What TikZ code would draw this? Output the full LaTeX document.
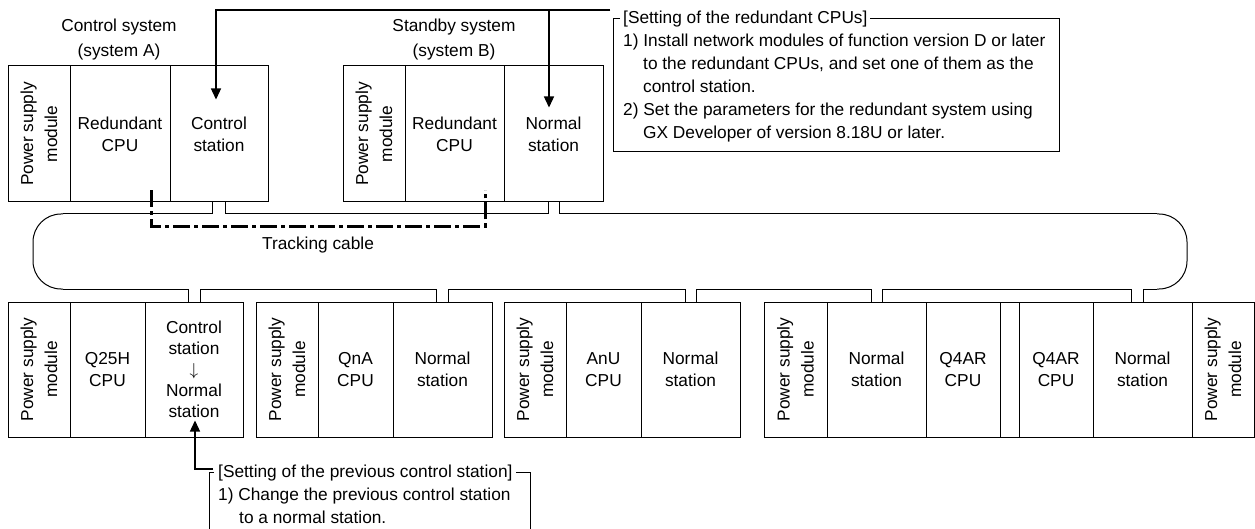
\documentclass[tikz,border=0pt]{standalone}
\usepackage{fontspec}
\setmainfont{Liberation Sans}
\usetikzlibrary{calc,arrows.meta}
\newcommand{\txtfont}{\fontsize{17.3}{22}\selectfont}
\begin{document}
\begin{tikzpicture}[x=1pt,y=-1pt,
  mod/.style={draw, line width=1pt, inner sep=0pt, align=center, font=\txtfont, minimum height=136pt},
  modb/.style={mod, minimum height=135pt},
  pow/.style={draw, line width=1pt, inner sep=0pt, align=center, rotate=90,
     font=\fontsize{17.3}{24}\selectfont, minimum height=62pt},
  lbl/.style={inner sep=0pt, font=\txtfont},
  notebox/.style={draw, line width=1pt, inner sep=0pt},
  ttl/.style={fill=white, inner ysep=1pt, inner xsep=3pt, font=\txtfont, anchor=base west},
  cable/.style={line width=1pt},
  conn/.style={line width=1.3pt, -{Triangle[length=11pt,width=10pt]}},
  track/.style={line width=3pt, dash pattern=on 17pt off 4pt on 4pt off 4pt}]
\clip (0,0) rectangle (1255,529);
\useasboundingbox (0,0) rectangle (1255,529);

% ---- top racks ----
\node[pow, minimum width=136pt] (pA) at (39,134) {Power supply\\module};
\node[mod, minimum width=100pt] (cpuA) at (120,134) {Redundant\\CPU};
\node[mod, minimum width=98pt] (csA) at (219,134) {Control\\station};
\node[pow, minimum width=136pt] (pB) at (374,134) {Power supply\\module};
\node[mod, minimum width=99pt] (cpuB) at (454.5,134) {Redundant\\CPU};
\node[mod, minimum width=99pt] (csB) at (553.5,134) {Normal\\station};

\node[lbl, anchor=base] (sysA1) at (119,32) {Control system};
\node[lbl, anchor=base] (sysA2) at (119,57) {(system A)};
\node[lbl, anchor=base] (sysB1) at (454,32) {Standby system};
\node[lbl, anchor=base] (sysB2) at (454,57) {(system B)};

% ---- bottom racks ----
\node[pow, minimum width=135pt] (r1p) at (39,369.5) {Power supply\\module};
\node[modb, minimum width=75pt] (r1c) at (107.5,369.5) {Q25H\\CPU};
\node[modb, minimum width=98pt, font=\fontsize{17.3}{21}\selectfont] (r1s) at (194,369.5) {Control\\station\\$\downarrow$\\Normal\\station};
\node[pow, minimum width=135pt] (r2p) at (287,369.5) {Power supply\\module};
\node[modb, minimum width=75pt] (r2c) at (355.5,369.5) {QnA\\CPU};
\node[modb, minimum width=99pt] (r2s) at (442.5,369.5) {Normal\\station};
\node[pow, minimum width=135pt] (r3p) at (535,369.5) {Power supply\\module};
\node[modb, minimum width=75pt] (r3c) at (603.5,369.5) {AnU\\CPU};
\node[modb, minimum width=99pt] (r3s) at (690.5,369.5) {Normal\\station};
\node[pow, minimum width=135pt, minimum height=63pt] (r4p1) at (795.5,369.5) {Power supply\\module};
\node[modb, minimum width=99pt] (r4n1) at (876.5,369.5) {Normal\\station};
\node[modb, minimum width=74pt] (r4c1) at (963,369.5) {Q4AR\\CPU};
\node[modb, minimum width=19pt] (r4e) at (1009.5,369.5) {};
\node[modb, minimum width=74pt] (r4c2) at (1056,369.5) {Q4AR\\CPU};
\node[modb, minimum width=99pt] (r4n2) at (1142.5,369.5) {Normal\\station};
\node[pow, minimum width=135pt] (r4p2) at (1223,369.5) {Power supply\\module};

% ---- network loop ----
\coordinate (s1) at ($(csA.south)+(-7,0)$);
\coordinate (s2) at ($(csA.south)+(6,0)$);
\coordinate (s3) at ($(csB.south)+(-5.5,0)$);
\coordinate (s4) at ($(csB.south)+(5.5,0)$);
\coordinate (b1) at ($(r1s.north)+(-6,0)$);
\coordinate (b2) at ($(r1s.north)+(6,0)$);
\coordinate (b3) at ($(r2s.north)+(-6.5,0)$);
\coordinate (b4) at ($(r2s.north)+(5.5,0)$);
\coordinate (b5) at ($(r3s.north)+(-5.5,0)$);
\coordinate (b6) at ($(r3s.north)+(5.5,0)$);
\coordinate (b7) at ($(r4n1.north)+(-5.5,0)$);
\coordinate (b8) at ($(r4n1.north)+(5.5,0)$);
\coordinate (b9) at ($(r4n2.north)+(-11.5,0)$);
\coordinate (b10) at ($(r4n2.north)+(0.5,0)$);
\coordinate (Ltop) at (63,214);
\coordinate (Lbot) at (63,289);
\coordinate (Rtop) at (1157,214);
\coordinate (Rbot) at (1157,289);

\draw[cable] (s1) |- (Ltop);
\draw[cable, rounded corners=28pt] (Ltop) -- ++(-30,0) -- ++(0,75) -- (Lbot);
\draw[cable] (Lbot) -| (b1);
\draw[cable] (b2) -- (b2 |- Lbot) -| (b3);
\draw[cable] (b4) -- (b4 |- Lbot) -| (b5);
\draw[cable] (b6) -- (b6 |- Lbot) -| (b7);
\draw[cable] (b8) -- (b8 |- Lbot) -| (b9);
\draw[cable] (b10) -- (b10 |- Rbot) -- (Rbot);
\draw[cable, rounded corners=28pt] (Rbot) -- ++(30,0) -- ++(0,-75) -- (Rtop);
\draw[cable] (Rtop) -| (s4);
\draw[cable] (s3) -- (s3 |- Rtop) -| (s2);

% ---- tracking cable ----
\coordinate (ta) at ($(cpuA.south)+(31,-12)$);
\coordinate (tb) at ($(cpuB.south)+(30.5,-12)$);
\coordinate (tc) at ($(cpuB.south)+(30.5,24)$);
\draw[track] (ta) |- (tc) -- (tb);
\node[lbl, anchor=base] (trk) at (318,249.5) {Tracking cable};

% ---- note: redundant CPUs ----
\node[notebox, anchor=north west, minimum width=446pt, minimum height=133pt] (noteA) at (613,18) {};
\node[ttl] (tA) at (620,24) {[Setting of the redundant CPUs]};
\node[lbl, anchor=base west] (a1) at (623,47) {1) Install network modules of function version D or later};
\node[lbl, anchor=base west] (a2) at (643,70) {to the redundant CPUs, and set one of them as the};
\node[lbl, anchor=base west] (a3) at (643,93) {control station.};
\node[lbl, anchor=base west] (a4) at (623,116) {2) Set the parameters for the redundant system using};
\node[lbl, anchor=base west] (a5) at (643,139) {GX Developer of version 8.18U or later.};
\coordinate (nA) at ($(noteA.north west)+(-3,-8)$);
\draw[conn] (nA) -| ($(csA.north)+(-3,34)$);
\draw[conn] (nA) -| ($(csB.north)+(-4.5,42)$);

% ---- note: previous control station ----
\node[notebox, anchor=north west, minimum width=321pt, minimum height=80pt] (noteB) at (209,472) {};
\node[ttl, inner xsep=4pt] (tB) at (214,477) {[Setting of the previous control station]};
\node[lbl, anchor=base west] (c1) at (218,500) {1) Change the previous control station};
\node[lbl, anchor=base west] (c2) at (239,523) {to a normal station.};
\coordinate (nB) at ($(noteB.north west)+(4,-3)$);
\draw[conn] (nB) -| ($(r1s.south)+(1,-17)$);
\end{tikzpicture}
\end{document}
